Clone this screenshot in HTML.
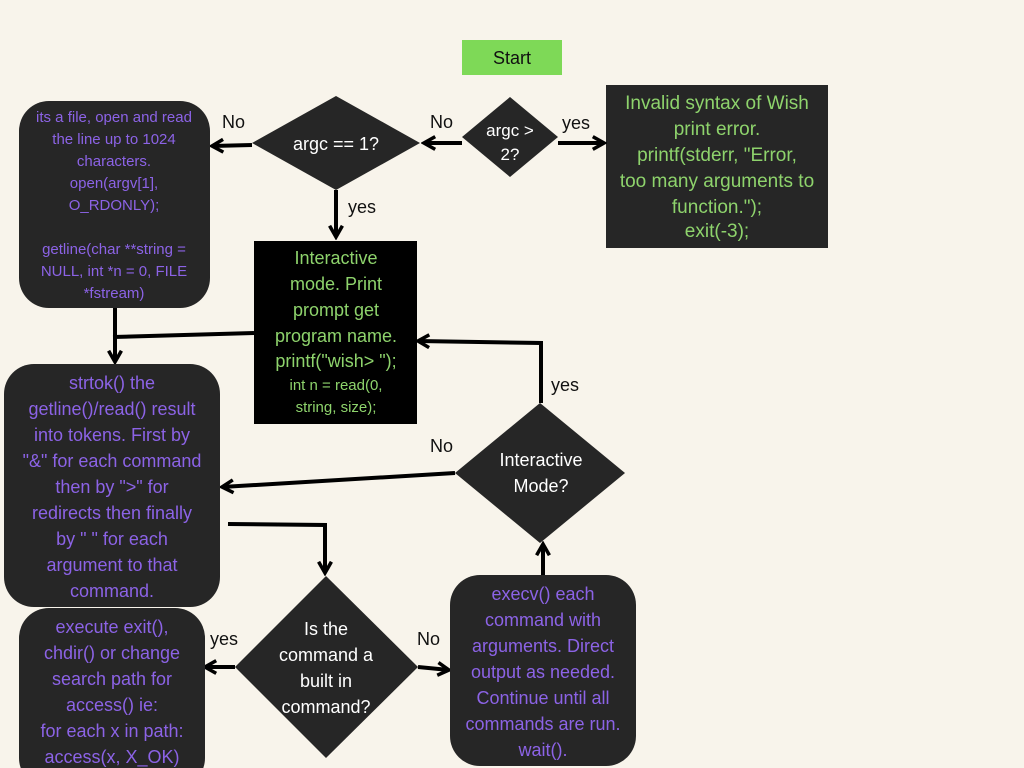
<!DOCTYPE html>
<html><head><meta charset="utf-8"><style>
html,body{margin:0;padding:0;background:#f8f4eb;}
svg{display:block;font-family:"Liberation Sans",sans-serif;}
.p{fill:#8c63e6;text-anchor:middle;}
.g{fill:#8ed36c;text-anchor:middle;}
.w{fill:#fff;text-anchor:middle;}
.k{fill:#111;}
</style></head><body>
<svg width="1024" height="768" viewBox="0 0 1024 768">
<defs><marker id="a" viewBox="0 0 10 10" refX="8" refY="5" markerWidth="4" markerHeight="4" orient="auto"><path d="M1,1 L8,5 L1,9" fill="none" stroke="#000" stroke-width="2.2"/></marker></defs>
<rect width="1024" height="768" fill="#f8f4eb"/>
<rect x="462" y="40" width="100" height="35" fill="#7ed957"/>
<text x="512" y="64" font-size="18" text-anchor="middle" fill="#111">Start</text>
<polygon points="510,97 558,137 510,177 462,137" fill="#262626"/>
<text x="510" y="136" font-size="17" class="w">argc &gt;</text>
<text x="510" y="160" font-size="17" class="w">2?</text>
<rect x="606" y="85" width="222" height="163" fill="#262626"/>
<g font-size="19" class="g">
<text x="717" y="109">Invalid syntax of Wish</text>
<text x="717" y="135">print error.</text>
<text x="717" y="161">printf(stderr, "Error,</text>
<text x="717" y="187">too many arguments to</text>
<text x="717" y="213">function.");</text>
<text x="717" y="237">exit(-3);</text>
</g>
<g stroke="#000" stroke-width="4" fill="none" marker-end="url(#a)">
<line x1="558" y1="143" x2="604" y2="143"/>
<line x1="462" y1="143" x2="424" y2="143"/>
<line x1="252" y1="145" x2="212" y2="146"/>
<line x1="336" y1="190" x2="336" y2="237"/>
<line x1="115" y1="336" x2="115" y2="362"/>
<line x1="455" y1="473" x2="222" y2="487"/>
<polyline points="541,403 541,343 418,341"/>
<polyline points="228,524 325,525 325,573"/>
<line x1="235" y1="667" x2="205" y2="667"/>
<line x1="418" y1="667" x2="449" y2="670"/>
<line x1="543" y1="575" x2="543" y2="544"/>
</g>
<g stroke="#000" stroke-width="4" fill="none">
<line x1="115" y1="308" x2="115" y2="337"/>
<line x1="254" y1="333" x2="113" y2="337"/>
</g>
<g font-size="18" class="k">
<text x="562" y="129">yes</text>
<text x="430" y="128">No</text>
<text x="222" y="128">No</text>
<text x="348" y="213">yes</text>
<text x="551" y="391">yes</text>
<text x="430" y="452">No</text>
<text x="210" y="645">yes</text>
<text x="417" y="645">No</text>
</g>
<polygon points="336,96 420,143 336,190 252,143" fill="#262626"/>
<text x="336" y="150" font-size="18" class="w">argc == 1?</text>
<rect x="19" y="101" width="191" height="207" rx="30" fill="#262626"/>
<g font-size="15" class="p">
<text x="114" y="122">its a file, open and read</text>
<text x="114" y="144">the line up to 1024</text>
<text x="114" y="166">characters.</text>
<text x="114" y="188">open(argv[1],</text>
<text x="114" y="210">O_RDONLY);</text>
<text x="114" y="254">getline(char **string =</text>
<text x="114" y="276">NULL, int *n = 0,  FILE</text>
<text x="114" y="298">*fstream)</text>
</g>
<rect x="254" y="241" width="163" height="183" fill="#000"/>
<g class="g">
<text x="336" y="264" font-size="18">Interactive</text>
<text x="336" y="290" font-size="18">mode. Print</text>
<text x="336" y="316" font-size="18">prompt get</text>
<text x="336" y="342" font-size="18">program name.</text>
<text x="336" y="367" font-size="18">printf("wish&gt; ");</text>
<text x="336" y="390" font-size="15">int n = read(0,</text>
<text x="336" y="412" font-size="15">string, size);</text>
</g>
<rect x="4" y="364" width="216" height="243" rx="30" fill="#262626"/>
<g font-size="18" class="p">
<text x="112" y="389">strtok() the</text>
<text x="112" y="415">getline()/read() result</text>
<text x="112" y="441">into tokens. First by</text>
<text x="112" y="467">"&amp;" for each command</text>
<text x="112" y="493">then by "&gt;" for</text>
<text x="112" y="519">redirects then finally</text>
<text x="112" y="545">by " " for each</text>
<text x="112" y="571">argument to that</text>
<text x="112" y="597">command.</text>
</g>
<polygon points="540,403 625,473 540,543 455,473" fill="#262626"/>
<text x="541" y="466" font-size="18" class="w">Interactive</text>
<text x="541" y="492" font-size="18" class="w">Mode?</text>
<polygon points="326,576 418,667 326,758 235,667" fill="#262626"/>
<g font-size="18" class="w">
<text x="326" y="635">Is the</text>
<text x="326" y="661">command a</text>
<text x="326" y="687">built in</text>
<text x="326" y="713">command?</text>
</g>
<rect x="19" y="608" width="186" height="180" rx="30" fill="#262626"/>
<g font-size="18" class="p">
<text x="112" y="633">execute exit(),</text>
<text x="112" y="659">chdir() or change</text>
<text x="112" y="685">search path for</text>
<text x="112" y="711">access() ie:</text>
<text x="112" y="737">for each x in path:</text>
<text x="112" y="763">access(x, X_OK)</text>
</g>
<rect x="450" y="575" width="186" height="191" rx="30" fill="#262626"/>
<g font-size="18" class="p">
<text x="543" y="600">execv() each</text>
<text x="543" y="626">command with</text>
<text x="543" y="652">arguments. Direct</text>
<text x="543" y="678">output as needed.</text>
<text x="543" y="704">Continue until all</text>
<text x="543" y="730">commands are run.</text>
<text x="543" y="756">wait().</text>
</g>
</svg>
</body></html>
